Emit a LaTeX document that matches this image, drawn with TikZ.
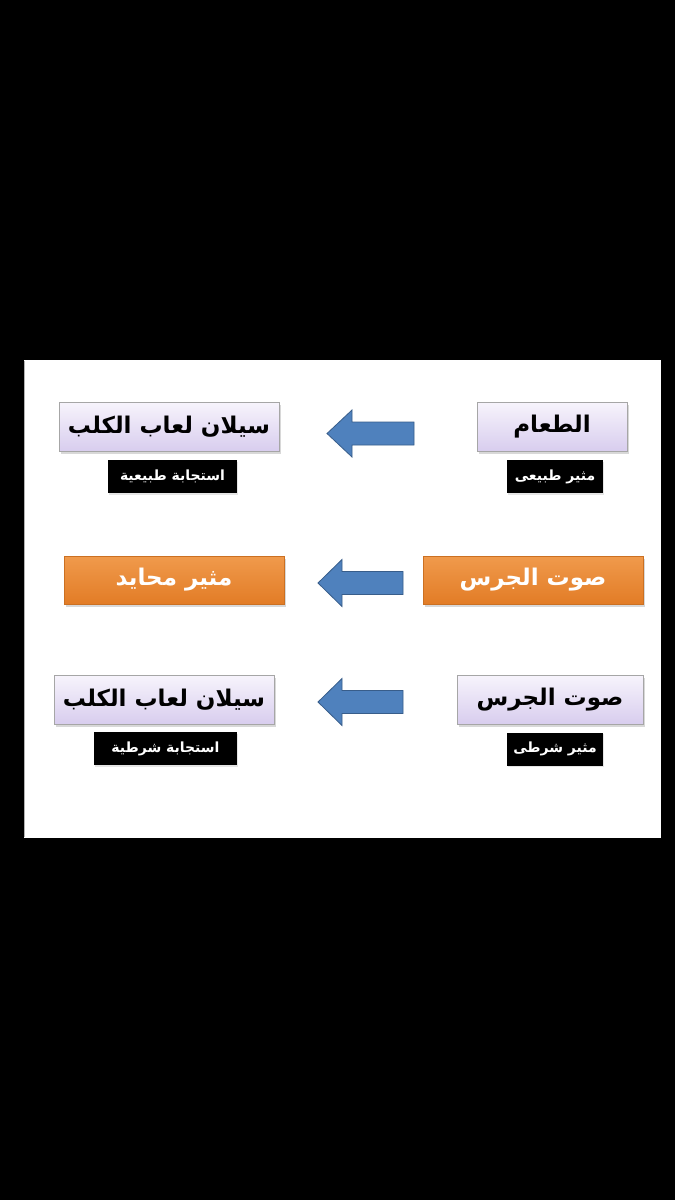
\documentclass[tikz,border=0pt]{standalone}
\usepackage{fontspec}
\newfontfamily\arabicfont[Script=Arabic]{DejaVu Sans}
\TeXXeTstate=1
\usepackage{xcolor}
\definecolor{lavTop}{HTML}{F7F4FC}
\definecolor{lavBot}{HTML}{D8CDEE}
\definecolor{orTop}{HTML}{F09A4C}
\definecolor{orBot}{HTML}{E27C26}
\definecolor{arrowBlue}{HTML}{4F81BD}
\definecolor{arrowEdge}{HTML}{385D8A}
\usetikzlibrary{shadows}

\begin{document}
\begin{tikzpicture}[x=1pt, y=-1pt,
    lavbox/.style={draw=black!35, top color=lavTop, bottom color=lavBot,
      minimum height=49pt, inner sep=0pt,
      drop shadow={opacity=0.3, shadow xshift=1.5pt, shadow yshift=-2.5pt},
      font=\arabicfont\bfseries\fontsize{23}{28}\selectfont},
    orbox/.style={draw=orBot!90!black, top color=orTop, bottom color=orBot,
      minimum height=48pt, inner sep=0pt, text=white,
      drop shadow={opacity=0.3, shadow xshift=1.5pt, shadow yshift=-2.5pt},
      font=\arabicfont\bfseries\fontsize{23}{28}\selectfont},
    tag/.style={fill=black, text=white, minimum height=33pt, inner sep=0pt,
      drop shadow={opacity=0.2, shadow xshift=1pt, shadow yshift=-1.5pt},
      font=\arabicfont\bfseries\fontsize{14}{17}\selectfont},
    blockarrow/.style={fill=arrowBlue, draw=arrowEdge, line width=0.8pt, line join=miter}]
  % Screen and slide
  \fill[black] (0,0) rectangle (675,1200);
  \fill[white] (24,360) rectangle (661,838);
  \draw[black!30] (24.5,361) -- (24.5,837);
  % Row 1 - unconditioned
  \node[lavbox, minimum width=220pt] (resp1) at (169,426.5) {\beginR سيلان لعاب الكلب\endR};
  \node[lavbox, minimum width=150pt] (food) at (552,426.5) {\beginR الطعام\endR};
  \node[tag, minimum width=129pt] (respTag1) at (172.5,476.5) {\beginR استجابة طبيعية\endR};
  \node[tag, minimum width=96pt] (foodTag) at (555,476.5) {\beginR مثير طبيعى\endR};
  % Row 2 - neutral
  \node[orbox, minimum width=220pt] (neutral) at (174,580) {\beginR مثير محايد\endR};
  \node[orbox, minimum width=220pt] (bell1) at (533,580) {\beginR صوت الجرس\endR};
  % Row 3 - conditioned
  \node[lavbox, minimum width=220pt] (resp2) at (164,699.5) {\beginR سيلان لعاب الكلب\endR};
  \node[lavbox, minimum width=186pt] (bell2) at (550,699.5) {\beginR صوت الجرس\endR};
  \node[tag, minimum width=143pt] (respTag2) at (165.5,748.5) {\beginR استجابة شرطية\endR};
  \node[tag, minimum width=96pt] (bellTag) at (555,749) {\beginR مثير شرطى\endR};
  % Block arrows
  \foreach \tx/\ty/\bx/\rx in {327/433.5/352/414, 318/583/342/403, 318/702/342/403}
    \draw[blockarrow] (\tx,\ty) -- (\bx,\ty-23.5) -- (\bx,\ty-11.5) -- (\rx,\ty-11.5)
      -- (\rx,\ty+11.5) -- (\bx,\ty+11.5) -- (\bx,\ty+23.5) -- cycle;
\end{tikzpicture}
\end{document}
